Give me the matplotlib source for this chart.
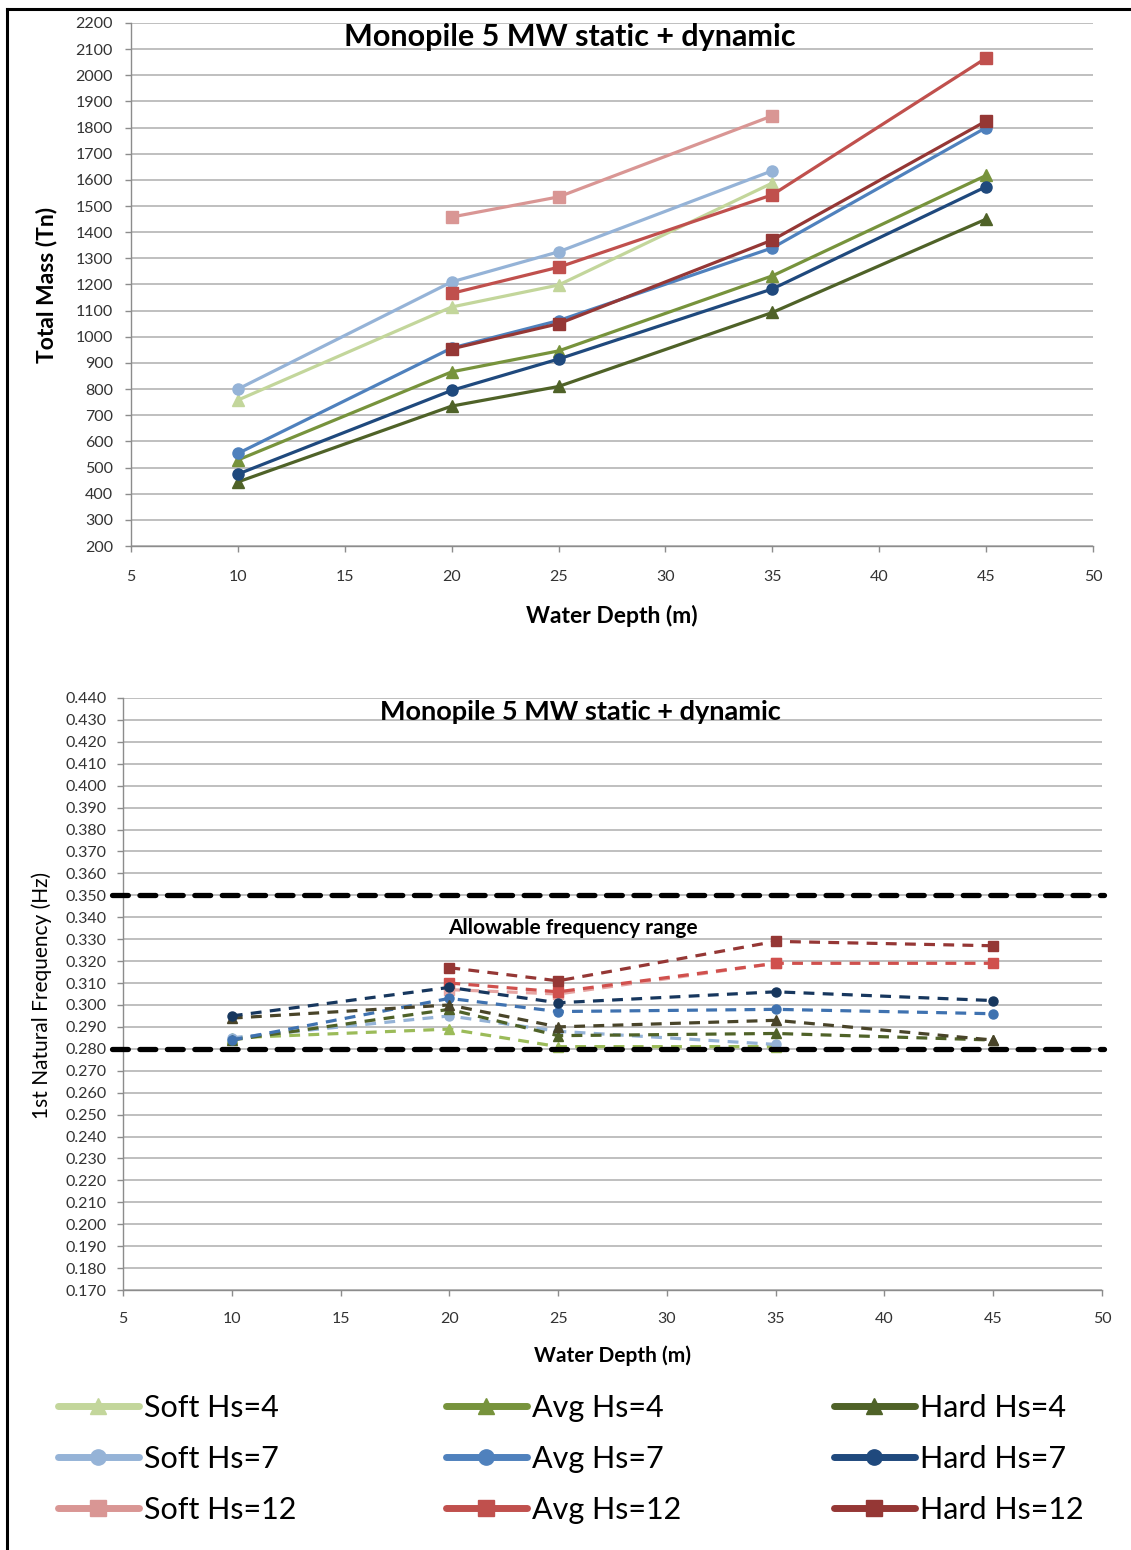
import numpy as np
import matplotlib
matplotlib.use("Agg")
import matplotlib.pyplot as plt
from matplotlib.lines import Line2D

plt.rcParams['font.family'] = ['Lato', 'DejaVu Sans']

# water depths (m) for which each case was computed
depths = {
    'Soft Hs=4': [10, 20, 25, 35],
    'Soft Hs=7': [10, 20, 25, 35],
    'Soft Hs=12': [20, 25, 35],
    'Avg Hs=4': [10, 20, 25, 35, 45],
    'Avg Hs=7': [10, 20, 25, 35, 45],
    'Avg Hs=12': [20, 25, 35, 45],
    'Hard Hs=4': [10, 20, 25, 35, 45],
    'Hard Hs=7': [10, 20, 25, 35, 45],
    'Hard Hs=12': [20, 25, 35, 45],
}

# total mass (Tn)
soft_hs4_mass = [758, 1114, 1198, 1588]
soft_hs7_mass = [800, 1210, 1325, 1635]
soft_hs12_mass = [1458, 1535, 1845]
avg_hs4_mass = [529, 866, 946, 1233, 1617]
avg_hs7_mass = [554, 957, 1062, 1340, 1800]
avg_hs12_mass = [1166, 1266, 1543, 2066]
hard_hs4_mass = [445, 735, 810, 1093, 1450]
hard_hs7_mass = [475, 795, 915, 1183, 1574]
hard_hs12_mass = [954, 1050, 1370, 1825]

# 1st natural frequency (Hz)
soft_hs4_freq = [0.285, 0.289, 0.281, 0.281]
soft_hs7_freq = [0.285, 0.295, 0.288, 0.282]
soft_hs12_freq = [0.307, 0.305, 0.319]
avg_hs4_freq = [0.284, 0.298, 0.286, 0.287, 0.284]
avg_hs7_freq = [0.284, 0.303, 0.297, 0.298, 0.296]
avg_hs12_freq = [0.310, 0.306, 0.319, 0.319]
hard_hs4_freq = [0.294, 0.300, 0.290, 0.293, 0.284]
hard_hs7_freq = [0.295, 0.308, 0.301, 0.306, 0.302]
hard_hs12_freq = [0.317, 0.311, 0.329, 0.327]

freq_limits = [0.280, 0.350]

mass = {
    'Soft Hs=4': soft_hs4_mass, 'Soft Hs=7': soft_hs7_mass, 'Soft Hs=12': soft_hs12_mass,
    'Avg Hs=4': avg_hs4_mass, 'Avg Hs=7': avg_hs7_mass, 'Avg Hs=12': avg_hs12_mass,
    'Hard Hs=4': hard_hs4_mass, 'Hard Hs=7': hard_hs7_mass, 'Hard Hs=12': hard_hs12_mass,
}
freq = {
    'Soft Hs=4': soft_hs4_freq, 'Soft Hs=7': soft_hs7_freq, 'Soft Hs=12': soft_hs12_freq,
    'Avg Hs=4': avg_hs4_freq, 'Avg Hs=7': avg_hs7_freq, 'Avg Hs=12': avg_hs12_freq,
    'Hard Hs=4': hard_hs4_freq, 'Hard Hs=7': hard_hs7_freq, 'Hard Hs=12': hard_hs12_freq,
}

colors = {
    'Soft Hs=4': '#c3d69b', 'Avg Hs=4': '#77933c', 'Hard Hs=4': '#4f6228',
    'Soft Hs=7': '#95b3d7', 'Avg Hs=7': '#4f81bd', 'Hard Hs=7': '#1f497d',
    'Soft Hs=12': '#d99694', 'Avg Hs=12': '#c0504d', 'Hard Hs=12': '#953735',
}
dash_colors = {
    'Soft Hs=4': '#9bbb59', 'Avg Hs=4': '#4f6228', 'Hard Hs=4': '#494429',
    'Soft Hs=7': '#95b3d7', 'Avg Hs=7': '#3f72b0', 'Hard Hs=7': '#17375e',
    'Soft Hs=12': '#e6a5a3', 'Avg Hs=12': '#d0504d', 'Hard Hs=12': '#953735',
}
markers = {'4': '^', '7': 'o', '12': 's'}
order = ['Soft Hs=4', 'Soft Hs=7', 'Soft Hs=12',
         'Avg Hs=4', 'Avg Hs=7', 'Avg Hs=12',
         'Hard Hs=4', 'Hard Hs=7', 'Hard Hs=12']

W, H = 1131, 1550
fig = plt.figure(figsize=(W / 100, H / 100), dpi=100)

def fx(px):
    return px / W

def fy(py):
    return 1 - py / H

grid_c = '#b4b4b4'
tick_c = '#333333'

def style_axes(ax):
    for s in ['top', 'right']:
        ax.spines[s].set_visible(False)
    for s in ['left', 'bottom']:
        ax.spines[s].set_color('#8c8c8c')
        ax.spines[s].set_linewidth(1.0)
    ax.grid(axis='y', color=grid_c, linewidth=1.2)
    ax.set_axisbelow(True)
    ax.tick_params(colors='#8c8c8c', labelcolor=tick_c, labelsize=11.5, length=4, width=1)

# --- total mass chart ---
ax1 = fig.add_axes([fx(131), fy(546), fx(1093) - fx(131), fy(23) - fy(546)])
style_axes(ax1)
ax1.set_xlim(5, 50)
ax1.set_ylim(200, 2200)
ax1.set_xticks(range(5, 51, 5))
ax1.set_yticks(range(200, 2201, 100))
ax1.tick_params(axis='x', pad=13)
ax1.tick_params(axis='y', pad=9)
for name in order:
    ax1.plot(depths[name], mass[name], color=colors[name], lw=2.3,
             marker=markers[name.split('=')[1]], ms=8, zorder=3)

fig.text(fx(570), fy(37), 'Monopile 5 MW static + dynamic', ha='center', va='center',
         fontsize=22, fontweight='bold')
fig.text(fx(612), fy(616), 'Water Depth (m)', ha='center', va='center',
         fontsize=16.5, fontweight='bold')
fig.text(fx(47), fy(285), 'Total Mass (Tn)', ha='center', va='center',
         fontsize=16.5, fontweight='bold', rotation=90)

# --- natural frequency chart ---
ax2 = fig.add_axes([fx(123), fy(1290), fx(1102) - fx(123), fy(698) - fy(1290)])
style_axes(ax2)
ax2.set_xlim(5, 50)
ax2.set_ylim(0.17, 0.44)
yt = np.arange(0.17, 0.4401, 0.01)
ax2.set_xticks(range(5, 51, 5))
ax2.set_yticks(yt)
ax2.set_yticklabels([f'{v:.3f}' for v in yt])
ax2.tick_params(axis='x', pad=12)
ax2.tick_params(axis='y', pad=8)
for name in order:
    ax2.plot(depths[name], freq[name], color=dash_colors[name], lw=2.3, ls=(0, (3.4, 2.6)),
             marker=markers[name.split('=')[1]], ms=6.5, zorder=3)

# allowable frequency band limits
for lim in freq_limits:
    ax2.plot([4.5, 50.1], [lim, lim], color='black', lw=3.8, ls=(0, (3.0, 2.2)),
             dash_capstyle='round', clip_on=False, zorder=4)

fig.text(fx(580), fy(712), 'Monopile 5 MW static + dynamic', ha='center', va='center',
         fontsize=19.5, fontweight='bold')
fig.text(fx(573), fy(928), 'Allowable frequency range', ha='center', va='center',
         fontsize=15, fontweight='bold')
fig.text(fx(613), fy(1356), 'Water Depth (m)', ha='center', va='center',
         fontsize=15, fontweight='bold')
fig.text(fx(42), fy(995), '1st Natural Frequency (Hz)', ha='center', va='center',
         fontsize=15, rotation=90)

# legend, one column per soil type
rows = [1409, 1459, 1509]
for col, x0 in zip(['Soft', 'Avg', 'Hard'], [58, 446, 834]):
    handles = []
    labels = []
    for hs in ['4', '7', '12']:
        name = f'{col} Hs={hs}'
        handles.append(Line2D([], [], color=colors[name], lw=5, marker=markers[hs],
                              ms=11, solid_capstyle='round'))
        labels.append(name)
    fig.legend(handles, labels, loc='center left', bbox_to_anchor=(fx(x0), fy(rows[1])),
               frameon=False, borderpad=0, borderaxespad=0, handlelength=2.65,
               handletextpad=0.15, labelspacing=0.75,
               prop={'size': 22})

# outer frame
fig.add_artist(Line2D([fx(7), fx(1131)], [fy(9), fy(9)], color='black', lw=2.2))
fig.add_artist(Line2D([fx(7), fx(7)], [fy(9), 0], color='black', lw=2.2))

fig.savefig('out.png', dpi=100, facecolor='white')
